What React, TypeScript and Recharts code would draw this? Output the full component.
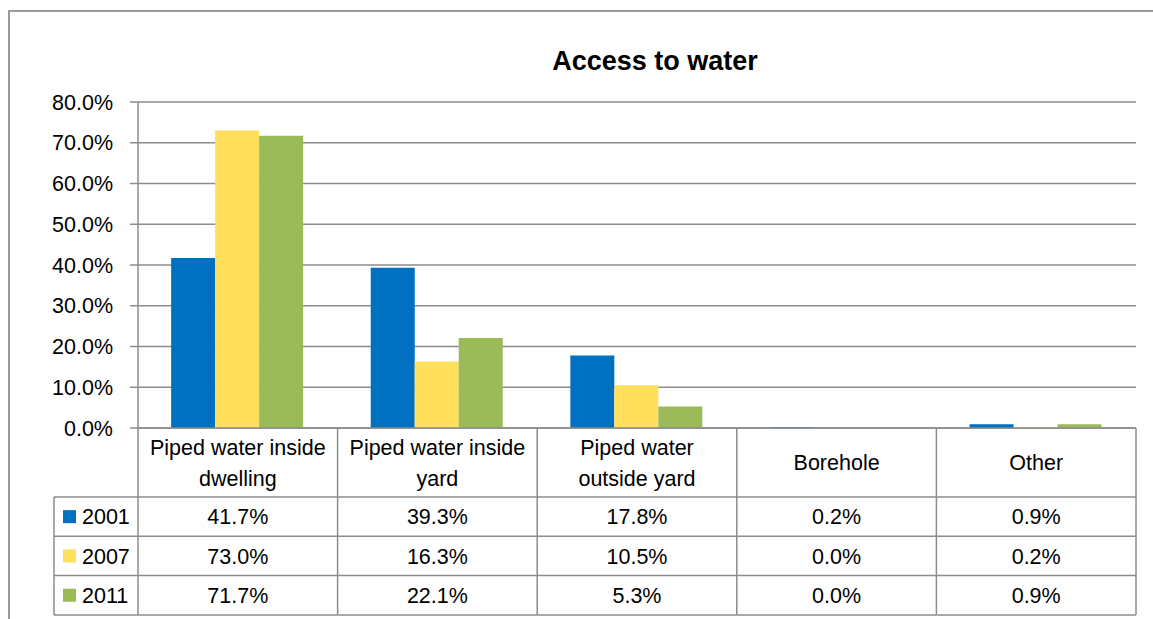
import React from 'react'
import { Bar, BarChart, CartesianGrid, Customized, XAxis, YAxis } from 'recharts'

const categories = ['Piped water inside dwelling', 'Piped water inside yard', 'Piped water outside yard', 'Borehole', 'Other']
const categoryLines = [
  ['Piped water inside', 'dwelling'],
  ['Piped water inside', 'yard'],
  ['Piped water', 'outside yard'],
  ['Borehole'],
  ['Other'],
]
const years = ['2001', '2007', '2011']
const values2001 = [41.7, 39.3, 17.8, 0.2, 0.9]
const values2007 = [73.0, 16.3, 10.5, 0.0, 0.2]
const values2011 = [71.7, 22.1, 5.3, 0.0, 0.9]
const yTicks = [0, 10, 20, 30, 40, 50, 60, 70, 80]

const colors = ['#0070C0', '#FFDF5B', '#9BBB59']
const seriesValues = [values2001, values2007, values2011]

const data = categories.map((name, i) => ({
  name,
  y2001: values2001[i],
  y2007: values2007[i],
  y2011: values2011[i],
}))

const W = 1153
const H = 619
const PLOT_LEFT = 138
const PLOT_RIGHT = 1136
const PLOT_BOTTOM = 428
const X_AXIS_H = 30
const BAND = (PLOT_RIGHT - PLOT_LEFT) / categories.length
const HEADER_H = 69
const ROW_H = 39.3
const LEGEND_W = 84
const FONT = '"Liberation Sans", Arial, sans-serif'
const LINE = '#8c8c8c'

const fmt = (v: number) => `${v.toFixed(1)}%`

function TableTick(props: any) {
  const { x, y, payload } = props
  const i = payload.index
  const left = x - BAND / 2
  const right = x + BAND / 2
  const lines = categoryLines[i]
  const headerMid = y + HEADER_H / 2
  const rowsTop = y + HEADER_H
  const bottom = rowsTop + ROW_H * years.length
  return (
    <g>
      {lines.map((t, k) => (
        <text
          key={k}
          x={x}
          y={headerMid + (k - (lines.length - 1) / 2) * 31}
          dy="0.36em"
          textAnchor="middle"
          fontSize={21.5}
          fontFamily={FONT}
          fill="#000"
        >
          {t}
        </text>
      ))}
      {/* vertical cell borders */}
      <line x1={right} y1={y} x2={right} y2={bottom} stroke={LINE} strokeWidth={1.5} />
      {i === 0 && <line x1={left} y1={y} x2={left} y2={bottom} stroke={LINE} strokeWidth={1.5} />}
      {i === 0 && (
        <line x1={left - LEGEND_W} y1={rowsTop} x2={left - LEGEND_W} y2={bottom} stroke={LINE} strokeWidth={1.5} />
      )}
      {years.map((yr, r) => {
        const top = rowsTop + r * ROW_H
        const mid = top + ROW_H / 2
        return (
          <g key={yr}>
            <line
              x1={i === 0 ? left - LEGEND_W : left}
              y1={top}
              x2={right}
              y2={top}
              stroke={LINE}
              strokeWidth={1.5}
            />
            <text x={x} y={mid} dy="0.36em" textAnchor="middle" fontSize={21.5} fontFamily={FONT} fill="#000">
              {fmt(seriesValues[r][i])}
            </text>
            {i === 0 && (
              <g>
                <rect x={left - LEGEND_W + 9} y={mid - 6.5} width={13} height={13} fill={colors[r]} />
                <text x={left - LEGEND_W + 28} y={mid} dy="0.36em" fontSize={21.5} fontFamily={FONT} fill="#000">
                  {yr}
                </text>
              </g>
            )}
          </g>
        )
      })}
      <line
        x1={i === 0 ? left - LEGEND_W : left}
        y1={bottom}
        x2={right}
        y2={bottom}
        stroke={LINE}
        strokeWidth={1.5}
      />
    </g>
  )
}

function Title() {
  return (
    <text x={655} y={70} textAnchor="middle" fontSize={27} fontWeight="bold" fontFamily={FONT} fill="#000">
      Access to water
    </text>
  )
}

export default function App() {
  return (
    <div style={{ position: 'absolute', left: 0, top: 0, width: W, height: H, background: '#fff' }}>
      <div
        style={{
          position: 'absolute',
          left: 8,
          top: 10,
          width: W - 8,
          height: H - 10,
          borderLeft: '2px solid #9a9a9a',
          borderTop: '2px solid #9a9a9a',
        }}
      />
      <div style={{ position: 'absolute', left: 0, top: 0 }}>
        <BarChart
          width={W}
          height={H}
          data={data}
          margin={{ top: 102, right: W - PLOT_RIGHT, bottom: H - PLOT_BOTTOM - X_AXIS_H, left: PLOT_LEFT - 80 }}
          barCategoryGap="16.6%"
          barGap={0}
        >
          <CartesianGrid vertical={false} stroke={LINE} strokeWidth={1.5} />
          <XAxis
            dataKey="name"
            height={X_AXIS_H}
            axisLine={{ stroke: LINE, strokeWidth: 1.5 }}
            tickLine={false}
            tickSize={0}
            tickMargin={0}
            interval={0}
            tick={<TableTick />}
          />
          <YAxis
            width={80}
            domain={[0, 80]}
            ticks={yTicks}
            tickFormatter={fmt}
            axisLine={{ stroke: LINE, strokeWidth: 1.5 }}
            tickLine={{ stroke: LINE, strokeWidth: 1.5 }}
            tickSize={8}
            tickMargin={17}
            tick={{ fill: '#000', fontSize: 21.5, fontFamily: FONT }}
          />
          <Bar dataKey="y2001" fill={colors[0]} isAnimationActive={false} />
          <Bar dataKey="y2007" fill={colors[1]} isAnimationActive={false} />
          <Bar dataKey="y2011" fill={colors[2]} isAnimationActive={false} />
          <Customized component={Title} />
        </BarChart>
      </div>
    </div>
  )
}
